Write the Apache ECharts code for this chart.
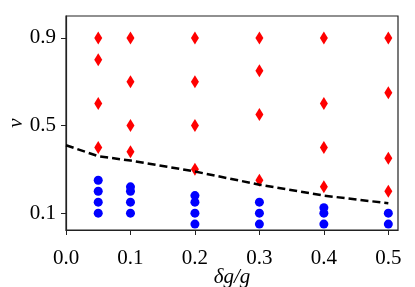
<!DOCTYPE html>
<html>
<head>
<meta charset="utf-8">
<script src="https://cdn.jsdelivr.net/npm/echarts@6/dist/echarts.min.js"></script>
<style>html,body{margin:0;padding:0;background:#fff}#c{width:415px;height:287px}</style>
</head>
<body>
<div id="c"></div>
<script>
// Data
var redPoints = [
  [0.05,0.4],[0.05,0.6],[0.05,0.8],[0.05,0.9],
  [0.1,0.38],[0.1,0.5],[0.1,0.7],[0.1,0.9],
  [0.2,0.3],[0.2,0.5],[0.2,0.7],[0.2,0.9],
  [0.3,0.25],[0.3,0.55],[0.3,0.75],[0.3,0.9],
  [0.4,0.22],[0.4,0.4],[0.4,0.6],[0.4,0.9],
  [0.5,0.2],[0.5,0.35],[0.5,0.65],[0.5,0.9]
];
var bluePoints = [
  [0.05,0.1],[0.05,0.15],[0.05,0.2],[0.05,0.25],
  [0.1,0.1],[0.1,0.15],[0.1,0.2],[0.1,0.22],
  [0.2,0.05],[0.2,0.1],[0.2,0.15],[0.2,0.18],
  [0.3,0.05],[0.3,0.1],[0.3,0.15],
  [0.4,0.05],[0.4,0.1],[0.4,0.125],
  [0.5,0.05],[0.5,0.1]
];
var boundaryX = [0, 0.05, 0.1, 0.2, 0.3, 0.4, 0.5];
var boundaryV = [0.41, 0.36, 0.34, 0.29, 0.23, 0.18, 0.145];
var xTicks = [0, 0.1, 0.2, 0.3, 0.4, 0.5];
var yTicks = [0.1, 0.5, 0.9];

var font = 'Liberation Serif';
var chart = echarts.init(document.getElementById('c'));
chart.setOption({
  animation: false,
  grid: {left: 66, right: 17, top: 16, bottom: 57, containLabel: false, outerBoundsMode: 'none',
    show: true, borderColor: '#222', borderWidth: 1.2, backgroundColor: 'transparent'},
  xAxis: {
    type: 'value', min: 0, max: 0.515,
    name: 'δg/g', nameLocation: 'middle', nameGap: 37, nameMoveOverlap: false,
    nameTextStyle: {fontFamily: font, fontStyle: 'italic', fontSize: 21, color: '#000'},
    axisLine: {show: true, lineStyle: {color: '#222', width: 1.2}},
    axisTick: {show: true, length: 5, lineStyle: {color: '#222', width: 1}, customValues: xTicks},
    axisLabel: {fontFamily: font, fontSize: 21, color: '#000', margin: 18, customValues: xTicks,
      formatter: function(v){return v.toFixed(1);}},
    splitLine: {show: false}
  },
  yAxis: {
    type: 'value', min: 0.023, max: 1.0,
    name: 'v', nameLocation: 'middle', nameGap: 39, nameRotate: 90, nameMoveOverlap: false,
    nameTextStyle: {fontFamily: font, fontStyle: 'italic', fontSize: 21, color: '#000'},
    axisLine: {show: true, lineStyle: {color: '#222', width: 1.2}},
    axisTick: {show: true, length: 5, lineStyle: {color: '#222', width: 1}, customValues: yTicks},
    axisLabel: {fontFamily: font, fontSize: 21, color: '#000', margin: 10, customValues: yTicks,
      formatter: function(v){return v.toFixed(1);}},
    splitLine: {show: false}
  },
  series: [
    {type: 'scatter', data: redPoints, symbol: 'diamond', symbolSize: [8, 13],
      itemStyle: {color: '#ff0000', opacity: 1}, z: 3},
    {type: 'scatter', data: bluePoints, symbol: 'circle', symbolSize: 9,
      itemStyle: {color: '#0000ff', opacity: 1}, z: 3},
    {type: 'line', data: boundaryX.map(function(x,i){return [x, boundaryV[i]];}),
      showSymbol: false, symbol: 'none',
      lineStyle: {color: '#000', width: 2.5, type: [8, 4]}, z: 4}
  ]
});
</script>
</body>
</html>
